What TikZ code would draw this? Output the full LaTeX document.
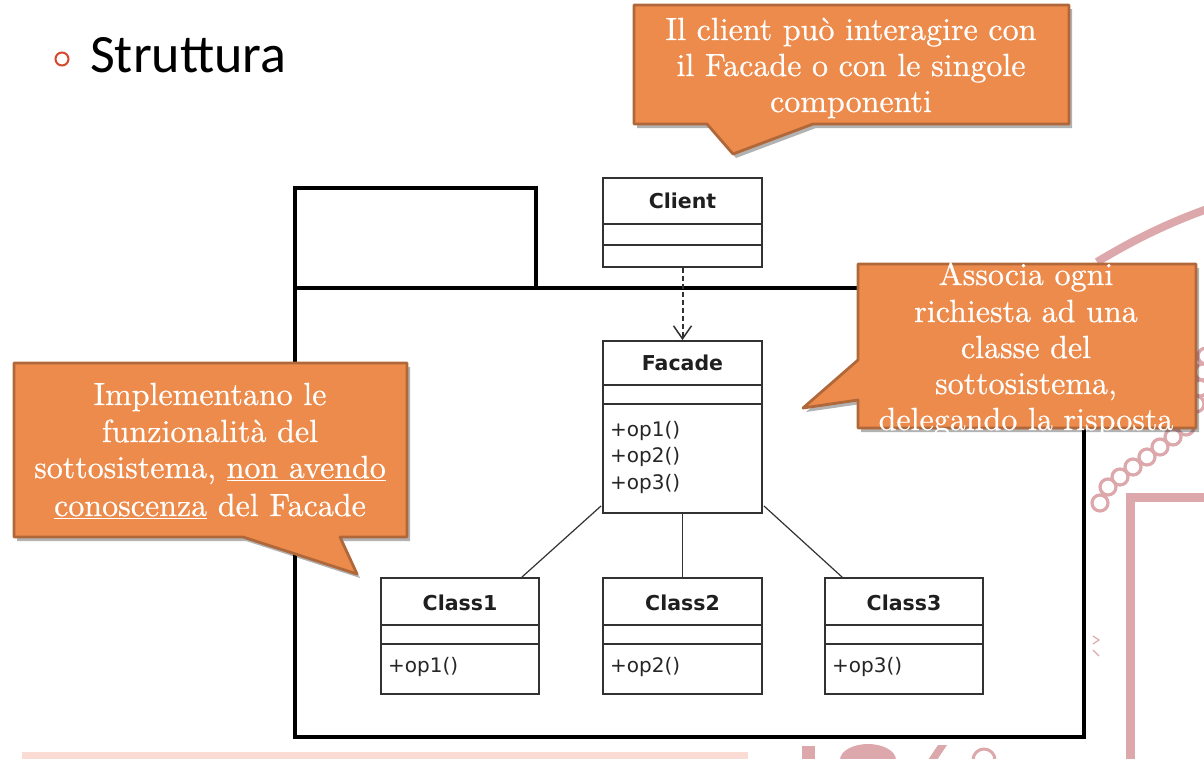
\documentclass[tikz,border=0pt]{standalone}
\usepackage{fontspec}
\newfontfamily\umlfont{DejaVu Sans}
\newfontfamily\titlefont{Carlito}
\newfontfamily\callfont[FakeBold=0.6]{lmroman10-regular.otf}
\usetikzlibrary{arrows.meta,shadows,calc}
\definecolor{callfill}{RGB}{236,139,75}
\definecolor{callborder}{RGB}{176,104,58}
\definecolor{decor}{RGB}{220,168,172}
\definecolor{decorlight}{RGB}{250,220,212}
\definecolor{bulletred}{RGB}{214,72,44}
\definecolor{umlline}{RGB}{50,50,50}
\begin{document}
\begin{tikzpicture}[x=1pt,y=-1pt,
  umlbox/.style={draw=umlline, line width=1.8pt, fill=white, inner sep=0pt, minimum width=159pt},
  umlname/.style={font=\umlfont\bfseries\fontsize{20.5}{24}\selectfont, text=black!88, inner sep=0pt},
  umlop/.style={font=\umlfont\fontsize{20}{24}\selectfont, anchor=west, inner sep=0pt, text=black!85},
  umldiv/.style={draw=umlline, line width=1.8pt},
  assoc/.style={draw=umlline, line width=1.2pt},
  dep/.style={draw=umlline, line width=2pt, dash pattern=on 5pt off 3pt, -{Straight Barb[length=13pt,width=18pt,line width=1.5pt]}},
  calloutshape/.style={fill=callfill, draw=callborder, line width=2.8pt, line join=round, drop shadow={shadow xshift=3pt, shadow yshift=-4pt, opacity=0.3, fill=black}},
  callouttext/.style={font=\callfont\fontsize{32}{36}\selectfont, text=white, anchor=base, inner sep=0pt},
  pkg/.style={draw=black, line width=3.6pt},
  deco/.style={draw=decor, line width=8pt},
  decoring/.style={draw=decor, line width=3.2pt},
]
\useasboundingbox (0,0) rectangle (1204,758);

% background decoration
\draw[deco] (1097,262) .. controls (1130,242) and (1165,224) .. (1210,208);
\foreach \cx/\cy in {1206/356,1203/372,1200/388,1196/404,1186/427,1173/437,1160/447,1147/457,1133/467,1120/477,1108/487,1100/503}
  \draw[decoring] (\cx,\cy) circle (8);
\draw[draw=decor, line width=9pt] (1130,762) -- (1130,497) -- (1210,497);
\draw[draw=decor, line width=1.2pt] (1093,636) -- (1099,640) -- (1093,644);
\draw[draw=decor, line width=1.2pt] (1093,650) -- (1099,656);
\fill[decorlight] (22,752) rectangle (748,760);
\fill[decor] (802,746) rectangle (815,760);
\fill[decor] (840,760) arc (180:360:28 and 16);
\fill[decor] (928,760) -- (938,745) -- (947,745) -- (937,760) -- cycle;
\draw[decor, line width=3pt] (984,760) circle (11);

% title
\draw[bulletred, line width=2pt] (62,59) circle (6.5);
\node[font=\titlefont\fontsize{54}{60}\selectfont, anchor=base west, inner sep=0pt] (title) at (90,72) {Struttura};

% package
\draw[pkg] (295,288) -- (295,188) -- (536,188) -- (536,288);
\draw[pkg] (295,288) rectangle (1084,737);

% UML classes
\node[umlbox, minimum height=89pt] (client) at (682.5,222.5) {};
\node[umlname] (clientname) at (682.5,201) {Client};
\draw[umldiv] ($(client.north west)+(0,47)$) -- ($(client.north east)+(0,47)$);
\draw[umldiv] ($(client.north west)+(0,68)$) -- ($(client.north east)+(0,68)$);

\node[umlbox, minimum height=172pt] (facade) at (682.5,427) {};
\node[umlname] (facadename) at (682.5,363) {Facade};
\draw[umldiv] ($(facade.north west)+(0,45)$) -- ($(facade.north east)+(0,45)$);
\draw[umldiv] ($(facade.north west)+(0,64)$) -- ($(facade.north east)+(0,64)$);
\node[umlop] (fop1) at (610,431) {+op1()};
\node[umlop] (fop2) at (610,457) {+op2()};
\node[umlop] (fop3) at (610,484) {+op3()};

\node[umlbox, minimum width=158pt, minimum height=116pt] (class1) at (460,636) {};
\node[umlname] (class1name) at (460,603) {Class1};
\draw[umldiv] ($(class1.north west)+(0,48)$) -- ($(class1.north east)+(0,48)$);
\draw[umldiv] ($(class1.north west)+(0,67)$) -- ($(class1.north east)+(0,67)$);
\node[umlop] (c1op) at (388,667) {+op1()};

\node[umlbox, minimum height=116pt] (class2) at (682.5,636) {};
\node[umlname] (class2name) at (682.5,603) {Class2};
\draw[umldiv] ($(class2.north west)+(0,48)$) -- ($(class2.north east)+(0,48)$);
\draw[umldiv] ($(class2.north west)+(0,67)$) -- ($(class2.north east)+(0,67)$);
\node[umlop] (c2op) at (610,667) {+op2()};

\node[umlbox, minimum width=158pt, minimum height=116pt] (class3) at (904,636) {};
\node[umlname] (class3name) at (904,603) {Class3};
\draw[umldiv] ($(class3.north west)+(0,48)$) -- ($(class3.north east)+(0,48)$);
\draw[umldiv] ($(class3.north west)+(0,67)$) -- ($(class3.north east)+(0,67)$);
\node[umlop] (c3op) at (832,667) {+op3()};

% connectors
\draw[dep] (client.south) -- (facade.north);
\draw[assoc] ($(facade.south west)+(-1,-8)$) -- ($(class1.north east)+(-18,0)$);
\draw[assoc] (facade.south) -- (class2.north);
\draw[assoc] ($(facade.south east)+(1,-8)$) -- ($(class3.north west)+(18,0)$);

% callouts
\path[calloutshape] (634,5) -- (1069,5) -- (1069,124) -- (813,124) -- (733,154) -- (707,124) -- (634,124) -- cycle;
\node[callouttext] (t1a) at (851,40) {Il client può interagire con};
\node[callouttext] (t1b) at (851,76) {il Facade o con le singole};
\node[callouttext] (t1c) at (851,112) {componenti};

\path[calloutshape] (858,264) -- (1196,264) -- (1196,428) -- (858,428) -- (858,400) -- (803,408) -- (858,360) -- cycle;
\node[callouttext] (t2a) at (1026,285) {Associa ogni};
\node[callouttext] (t2b) at (1026,322) {richiesta ad una};
\node[callouttext] (t2c) at (1026,358) {classe del};
\node[callouttext] (t2d) at (1026,394) {sottosistema,};
\node[callouttext] (t2e) at (1026,430) {delegando la risposta};

\path[calloutshape] (14,363) -- (407,363) -- (407,537) -- (340,537) -- (357,574) -- (243,537) -- (14,537) -- cycle;
\node[callouttext] (t3a) at (210,405) {Implementano le};
\node[callouttext] (t3b) at (210,442) {funzionalità del};
\node[callouttext] (t3c) at (210,478) {sottosistema, \underline{non avendo}};
\node[callouttext] (t3d) at (210,516) {\underline{conoscenza} del Facade};
\end{tikzpicture}
\end{document}
